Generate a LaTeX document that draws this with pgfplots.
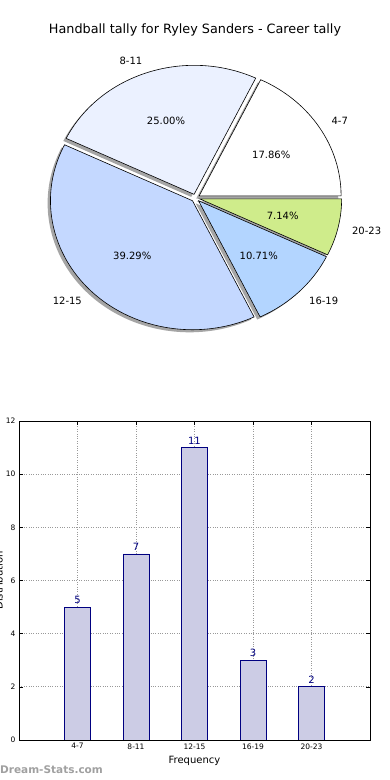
\documentclass[border=0pt]{standalone}
\usepackage{pgfplots}
\pgfplotsset{compat=1.18}
\usepackage{fontspec}
\setmainfont{DejaVu Sans}
\definecolor{c1}{RGB}{255,255,255}
\definecolor{c2}{RGB}{235,241,255}
\definecolor{c3}{RGB}{196,216,255}
\definecolor{c4}{RGB}{179,213,255}
\definecolor{c5}{RGB}{207,236,139}
\definecolor{barfill}{RGB}{204,204,229}
\definecolor{navyc}{RGB}{0,0,128}
\definecolor{wm}{RGB}{160,160,160}
% pie data: value/label/colour
\def\piedata{5/4-7/c1,7/8-11/c2,11/12-15/c3,3/16-19/c4,2/20-23/c5}
\def\pietotal{28}
\begin{document}
\begin{tikzpicture}
\useasboundingbox (0,0) rectangle (390bp,780bp);
\node[font=\fontsize{12.8bp}{15bp}\selectfont] at (195bp,750bp) {Handball tally for Ryley Sanders - Career tally};
\begin{axis}[hide axis, scale only axis, width=284bp, height=258bp,
  xmin=-1, xmax=1, ymin=-1, ymax=1, anchor=center, at={(195.5bp,582bp)}, clip=false]
\addplot[draw=none] coordinates {(0,0)};
\pgfplotsextra{
  % shadows
  \foreach \v/\lab/\col [remember=\b as \a (initially 0)] in \piedata {
    \pgfmathsetmacro\b{\a+\v*360/\pietotal}
    \pgfmathsetmacro\m{(\a+\b)/2}
    \pgfmathsetmacro\ox{0.03*cos(\m)-0.02}
    \pgfmathsetmacro\oy{0.03*sin(\m)-0.02}
    \fill[black!70, opacity=0.5] (axis cs:\ox,\oy) -- ++(\a:142bp and 129bp)
      arc[start angle=\a, end angle=\b, x radius=142bp, y radius=129bp] -- cycle;
  }
  % wedges
  \foreach \v/\lab/\col [remember=\b as \a (initially 0)] in \piedata {
    \pgfmathsetmacro\b{\a+\v*360/\pietotal}
    \pgfmathsetmacro\m{(\a+\b)/2}
    \pgfmathsetmacro\ox{0.03*cos(\m)}
    \pgfmathsetmacro\oy{0.03*sin(\m)}
    \filldraw[fill=\col, draw=black, line width=0.6bp] (axis cs:\ox,\oy) -- ++(\a:142bp and 129bp)
      arc[start angle=\a, end angle=\b, x radius=142bp, y radius=129bp] -- cycle;
  }
  % labels
  \foreach \v/\lab/\col [remember=\b as \a (initially 0)] in \piedata {
    \pgfmathsetmacro\b{\a+\v*360/\pietotal}
    \pgfmathsetmacro\m{(\a+\b)/2}
    \pgfmathsetmacro\lx{1.13*cos(\m)}
    \pgfmathsetmacro\ly{1.13*sin(\m)}
    \pgfmathsetmacro\px{0.63*cos(\m)}
    \pgfmathsetmacro\py{0.63*sin(\m)}
    \pgfmathsetmacro\pct{\v*100/\pietotal}
    \pgfmathtruncatemacro\isright{cos(\m)>0}
    \ifnum\isright=1 \def\anch{west}\else\def\anch{east}\fi
    \node[anchor=\anch, inner sep=0pt, font=\fontsize{10bp}{12bp}\selectfont] at (axis cs:\lx,\ly) {\lab};
    \node[inner sep=0pt, font=\fontsize{10bp}{12bp}\selectfont] at (axis cs:\px,\py)
      {\pgfmathprintnumber[fixed,fixed zerofill,precision=2,assume math mode=true]{\pct}\%};
  }
}
\end{axis}
\begin{axis}[at={(19bp,40bp)}, anchor=south west, scale only axis,
  width=351bp, height=319bp,
  xmin=-1, xmax=5, ymin=0, ymax=12, ytick={0,2,...,12},
  xtick=data, xticklabels={4-7,8-11,12-15,16-19,20-23},
  ybar, bar width=26bp,
  grid=major, grid style={dotted, black!40, line width=0.7bp},
  tick align=inside, major tick length=4bp, tick style={black, line width=0.5bp},
  axis line style={line width=0.8bp},
  ticklabel style={font=\fontsize{7.5bp}{9bp}\selectfont},
  /pgf/number format/assume math mode=true,
  xlabel={Frequency}, xlabel style={font=\fontsize{10bp}{12bp}\selectfont},
  ylabel={Distribution}, ylabel style={font=\fontsize{10bp}{12bp}\selectfont, at={(axis description cs:0,0.5)}, anchor=center, yshift=20bp},
  nodes near coords, nodes near coords style={font=\fontsize{10bp}{12bp}\selectfont, text=navyc, inner sep=0pt, anchor=south, yshift=3bp}]
\addplot[fill=barfill, draw=navyc, line width=0.7bp] coordinates {(0,5) (1,7) (2,11) (3,3) (4,2)};
\end{axis}
\node[anchor=west, inner sep=0pt, text=wm, font=\bfseries\fontsize{10.5bp}{12bp}\selectfont] at (0bp,10bp) {Dream-Stats.com};
\end{tikzpicture}
\end{document}
